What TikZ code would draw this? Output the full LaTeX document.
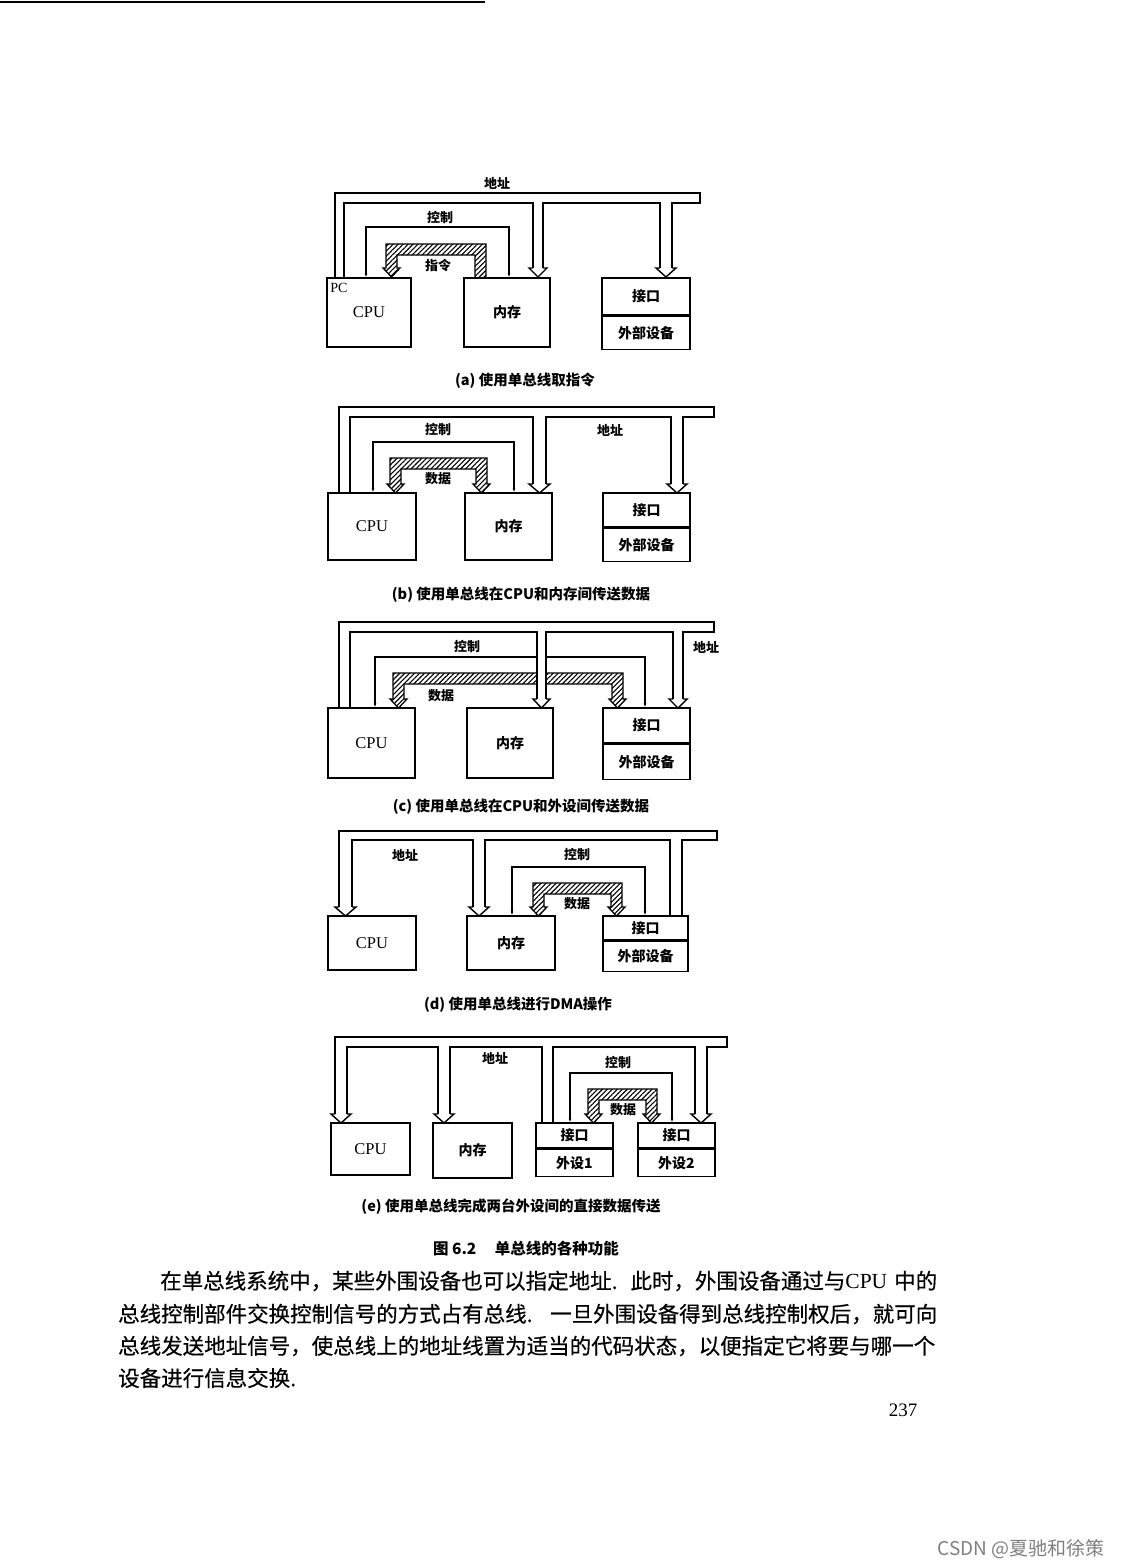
\documentclass[tikz,border=0pt]{standalone}
\usepackage{fontspec}
\setmainfont{Liberation Serif}
\newfontfamily\cjk{Noto Sans CJK SC}
\newfontfamily\cjkbody{Noto Sans CJK SC}[FakeBold=0.5]
\usepackage{tikz}
\usetikzlibrary{arrows.meta, patterns.meta}
\newcommand{\fsz}[1]{\fontsize{#1}{#1}\selectfont}
% hollow head of an address branch: left x, right x, tip y
\newcommand{\vhead}[3]{\draw[bus] (#1,#3-9) -- (#1-4,#3-9) -- ({(#1+#2)/2},#3) -- (#2+4,#3-9) -- (#2,#3-9);}
% hatched data bus with two heads: left x, right x, top y, tip y
\newcommand{\dbus}[4]{\draw[data] (#1,#4-9) -- (#1,#3) -- (#2,#3) -- (#2,#4-9) -- (#2+3,#4-9) -- (#2-5.5,#4) -- (#2-14,#4-9) -- (#2-11,#4-9) -- (#2-11,#3+11) -- (#1+11,#3+11) -- (#1+11,#4-9) -- (#1+14,#4-9) -- (#1+5.5,#4) -- (#1-3,#4-9) -- cycle;}

\begin{document}
\begin{tikzpicture}[x=1pt, y=-1pt,
    box/.style={draw, line width=1.5pt, inner sep=0, font=\cjk\bfseries\fsz{14}},
    cpubox/.style={box, font=\rmfamily\fsz{16.5}},
    bus/.style={line width=1.4pt},
    ctrl/.style={line width=1.2pt, {Latex[length=4pt,width=3pt]}-{Latex[length=4pt,width=3pt]}},
    data/.style={line width=1.3pt, pattern={Lines[angle=45,distance=3.5pt,line width=1.1pt]}},
    lbl/.style={font=\cjk\bfseries\fsz{13}, inner sep=0},
    captxt/.style={font=\cjk\bfseries\fsz{14.5}, inner sep=0},
    body/.style={font=\cjkbody\fsz{21.5}, inner sep=0, anchor=west}
]
    \fill[white] (0,0) rectangle (1122,1568);
    \useasboundingbox (0,0) rectangle (1122,1568);
    \draw[line width=1.5pt] (0,2) -- (485,2);

    % (a) Nodes
    \node[cpubox, minimum width=84pt, minimum height=69pt] (cpuA) at (369,312.5) {CPU};
    \node[font=\rmfamily\fsz{14}, inner sep=0] (pcA) at (339,288) {PC};
    \node[box, minimum width=86pt, minimum height=69pt] (memA) at (507,312.5) {内存};
    \node[box, minimum width=88pt, minimum height=37pt] (jkA) at (646,296.5) {接口};
    \node[box, minimum width=88pt, minimum height=33pt, anchor=north] (wsA) at (jkA.south) {外部设备};
    \node[lbl] (adrA) at (497,183) {地址};
    \node[lbl] (ctlA) at (440,218) {控制};
    \node[lbl] (insA) at (438,266) {指令};
    \node[captxt] (capA) at (525,381) {(a)\ 使用单总线取指令};

    % (a) Buses
    \draw[data] (475,278) -- (475,255) -- (397,255) -- (397,268) -- (400,268) -- (391.5,277) -- (383,268) -- (386,268) -- (386,244) -- (486,244) -- (486,278) -- cycle;
    \draw[ctrl] (366,0 |- cpuA.north) |- (509,227) -- (509,0 |- memA.north);
    \draw[bus] (335,278) -- (335,193) -- (700,193) -- (700,203) -- (672,203) -- (672,268);
    \draw[bus] (660,268) -- (660,203) -- (543,203) -- (543,268);
    \draw[bus] (533,268) -- (533,203) -- (344,203) -- (344,278);
    \vhead{533}{543}{277}
    \vhead{660}{672}{277}

    % (b) Nodes
    \node[cpubox, minimum width=88pt, minimum height=67pt] (cpuB) at (372,526.5) {CPU};
    \node[box, minimum width=87pt, minimum height=67pt] (memB) at (508.5,526.5) {内存};
    \node[box, minimum width=87pt, minimum height=34pt] (jkB) at (646.5,510) {接口};
    \node[box, minimum width=87pt, minimum height=33pt, anchor=north] (wsB) at (jkB.south) {外部设备};
    \node[lbl] (ctlB) at (438,430) {控制};
    \node[lbl] (adrB) at (610,430) {地址};
    \node[lbl] (datB) at (438,479) {数据};
    \node[captxt] (capB) at (521,595) {(b)\ 使用单总线在CPU和内存间传送数据};

    % (b) Buses
    \dbus{390}{487}{458}{493}
    \draw[ctrl] (373,0 |- cpuB.north) |- (514,442) -- (514,0 |- memB.north);
    \draw[bus] (339,493) -- (339,407) -- (714,407) -- (714,417) -- (683,417) -- (683,484);
    \draw[bus] (671,484) -- (671,417) -- (546,417) -- (546,484);
    \draw[bus] (533,484) -- (533,417) -- (350,417) -- (350,493);
    \vhead{533}{546}{493}
    \vhead{671}{683}{493}

    % (c) Nodes
    \node[cpubox, minimum width=87pt, minimum height=70pt] (cpuC) at (371.5,743) {CPU};
    \node[box, minimum width=86pt, minimum height=70pt] (memC) at (510,743) {内存};
    \node[box, minimum width=87pt, minimum height=35pt] (jkC) at (646.5,725.5) {接口};
    \node[box, minimum width=87pt, minimum height=35pt, anchor=north] (wsC) at (jkC.south) {外部设备};
    \node[lbl] (ctlC) at (467,647) {控制};
    \node[lbl] (adrC) at (706,647) {地址};
    \node[lbl] (datC) at (441,696) {数据};
    \node[captxt] (capC) at (521,807) {(c)\ 使用单总线在CPU和外设间传送数据};

    % (c) Buses
    \dbus{393}{623}{673}{708}
    \draw[ctrl] (375,0 |- cpuC.north) |- (645,657) -- (645,0 |- jkC.north);
    \fill[white] (538,633) rectangle (545,699);
    \draw[bus] (339,708) -- (339,622) -- (714,622) -- (714,632) -- (683,632) -- (683,699);
    \draw[bus] (673,699) -- (673,632) -- (546,632) -- (546,699);
    \draw[bus] (537,699) -- (537,632) -- (350,632) -- (350,708);
    \vhead{537}{546}{708}
    \vhead{673}{683}{708}

    % (d) Nodes
    \node[cpubox, minimum width=88pt, minimum height=54pt] (cpuD) at (372,943) {CPU};
    \node[box, minimum width=88pt, minimum height=54pt] (memD) at (511,943) {内存};
    \node[box, minimum width=85pt, minimum height=24pt] (jkD) at (645.5,928) {接口};
    \node[box, minimum width=85pt, minimum height=30pt, anchor=north] (wsD) at (jkD.south) {外部设备};
    \node[lbl] (adrD) at (405,855) {地址};
    \node[lbl] (ctlD) at (577,855) {控制};
    \node[lbl] (datD) at (577,904) {数据};
    \node[captxt] (capD) at (518,1005) {(d)\ 使用单总线进行DMA操作};

    % (d) Buses
    \dbus{533}{622}{883}{916}
    \draw[ctrl] (512,0 |- memD.north) |- (645,867) -- (645,0 |- jkD.north);
    \draw[bus] (339,907) -- (339,831) -- (717,831) -- (717,840) -- (682,840) -- (682,916);
    \draw[bus] (670,916) -- (670,840) -- (485,840) -- (485,907);
    \draw[bus] (473,907) -- (473,840) -- (352,840) -- (352,907);
    \vhead{339}{352}{916}
    \vhead{473}{485}{916}

    % (e) Nodes
    \node[cpubox, minimum width=79pt, minimum height=52pt] (cpuE) at (370.5,1149) {CPU};
    \node[box, minimum width=79pt, minimum height=55pt] (memE) at (472.5,1150.5) {内存};
    \node[box, minimum width=77pt, minimum height=25pt] (jkE1) at (574.5,1135.5) {接口};
    \node[box, minimum width=77pt, minimum height=27pt, anchor=north] (wsE1) at (jkE1.south) {外设1};
    \node[box, minimum width=77pt, minimum height=25pt] (jkE2) at (676.5,1135.5) {接口};
    \node[box, minimum width=77pt, minimum height=27pt, anchor=north] (wsE2) at (jkE2.south) {外设2};
    \node[lbl] (adrE) at (495,1058) {地址};
    \node[lbl] (ctlE) at (618,1063) {控制};
    \node[lbl] (datE) at (623,1110) {数据};
    \node[captxt] (capE) at (511,1207) {(e)\ 使用单总线完成两台外设间的直接数据传送};

    % (e) Buses
    \dbus{588}{657}{1089}{1123}
    \draw[ctrl] (570,0 |- jkE1.north) |- (672,1073) -- (672,0 |- jkE2.north);
    \draw[bus] (335,1114) -- (335,1037) -- (727,1037) -- (727,1047) -- (707,1047) -- (707,1114);
    \draw[bus] (695,1114) -- (695,1047) -- (553,1047) -- (553,1123);
    \draw[bus] (542,1123) -- (542,1047) -- (450,1047) -- (450,1114);
    \draw[bus] (438,1114) -- (438,1047) -- (347,1047) -- (347,1114);
    \vhead{335}{347}{1123}
    \vhead{438}{450}{1123}
    \vhead{695}{707}{1123}

    % Text of the page
    \node[captxt, font=\cjk\bfseries\fsz{15.5}] (fig) at (526,1249) {图 6.2\hspace{1.2em}单总线的各种功能};
    \node[body] (ln1) at (160,1281) {\makebox[777pt][s]{在单总线系统中，某些外围设备也可以指定地址. 此时，外围设备通过与{\rmfamily CPU} 中的}};
    \node[body] (ln2) at (118,1314) {\makebox[819pt][s]{总线控制部件交换控制信号的方式占有总线. 一旦外围设备得到总线控制权后，就可向}};
    \node[body] (ln3) at (118,1346) {总线发送地址信号，使总线上的地址线置为适当的代码状态，以便指定它将要与哪一个};
    \node[body] (ln4) at (118,1378) {设备进行信息交换.};
    \node[font=\rmfamily\fsz{19}, inner sep=0] (pgno) at (903,1410) {237};
    \node[font=\cjk\fsz{19}, text=gray, inner sep=0] (mark) at (1021,1549) {CSDN @夏驰和徐策};
\end{tikzpicture}
\end{document}
